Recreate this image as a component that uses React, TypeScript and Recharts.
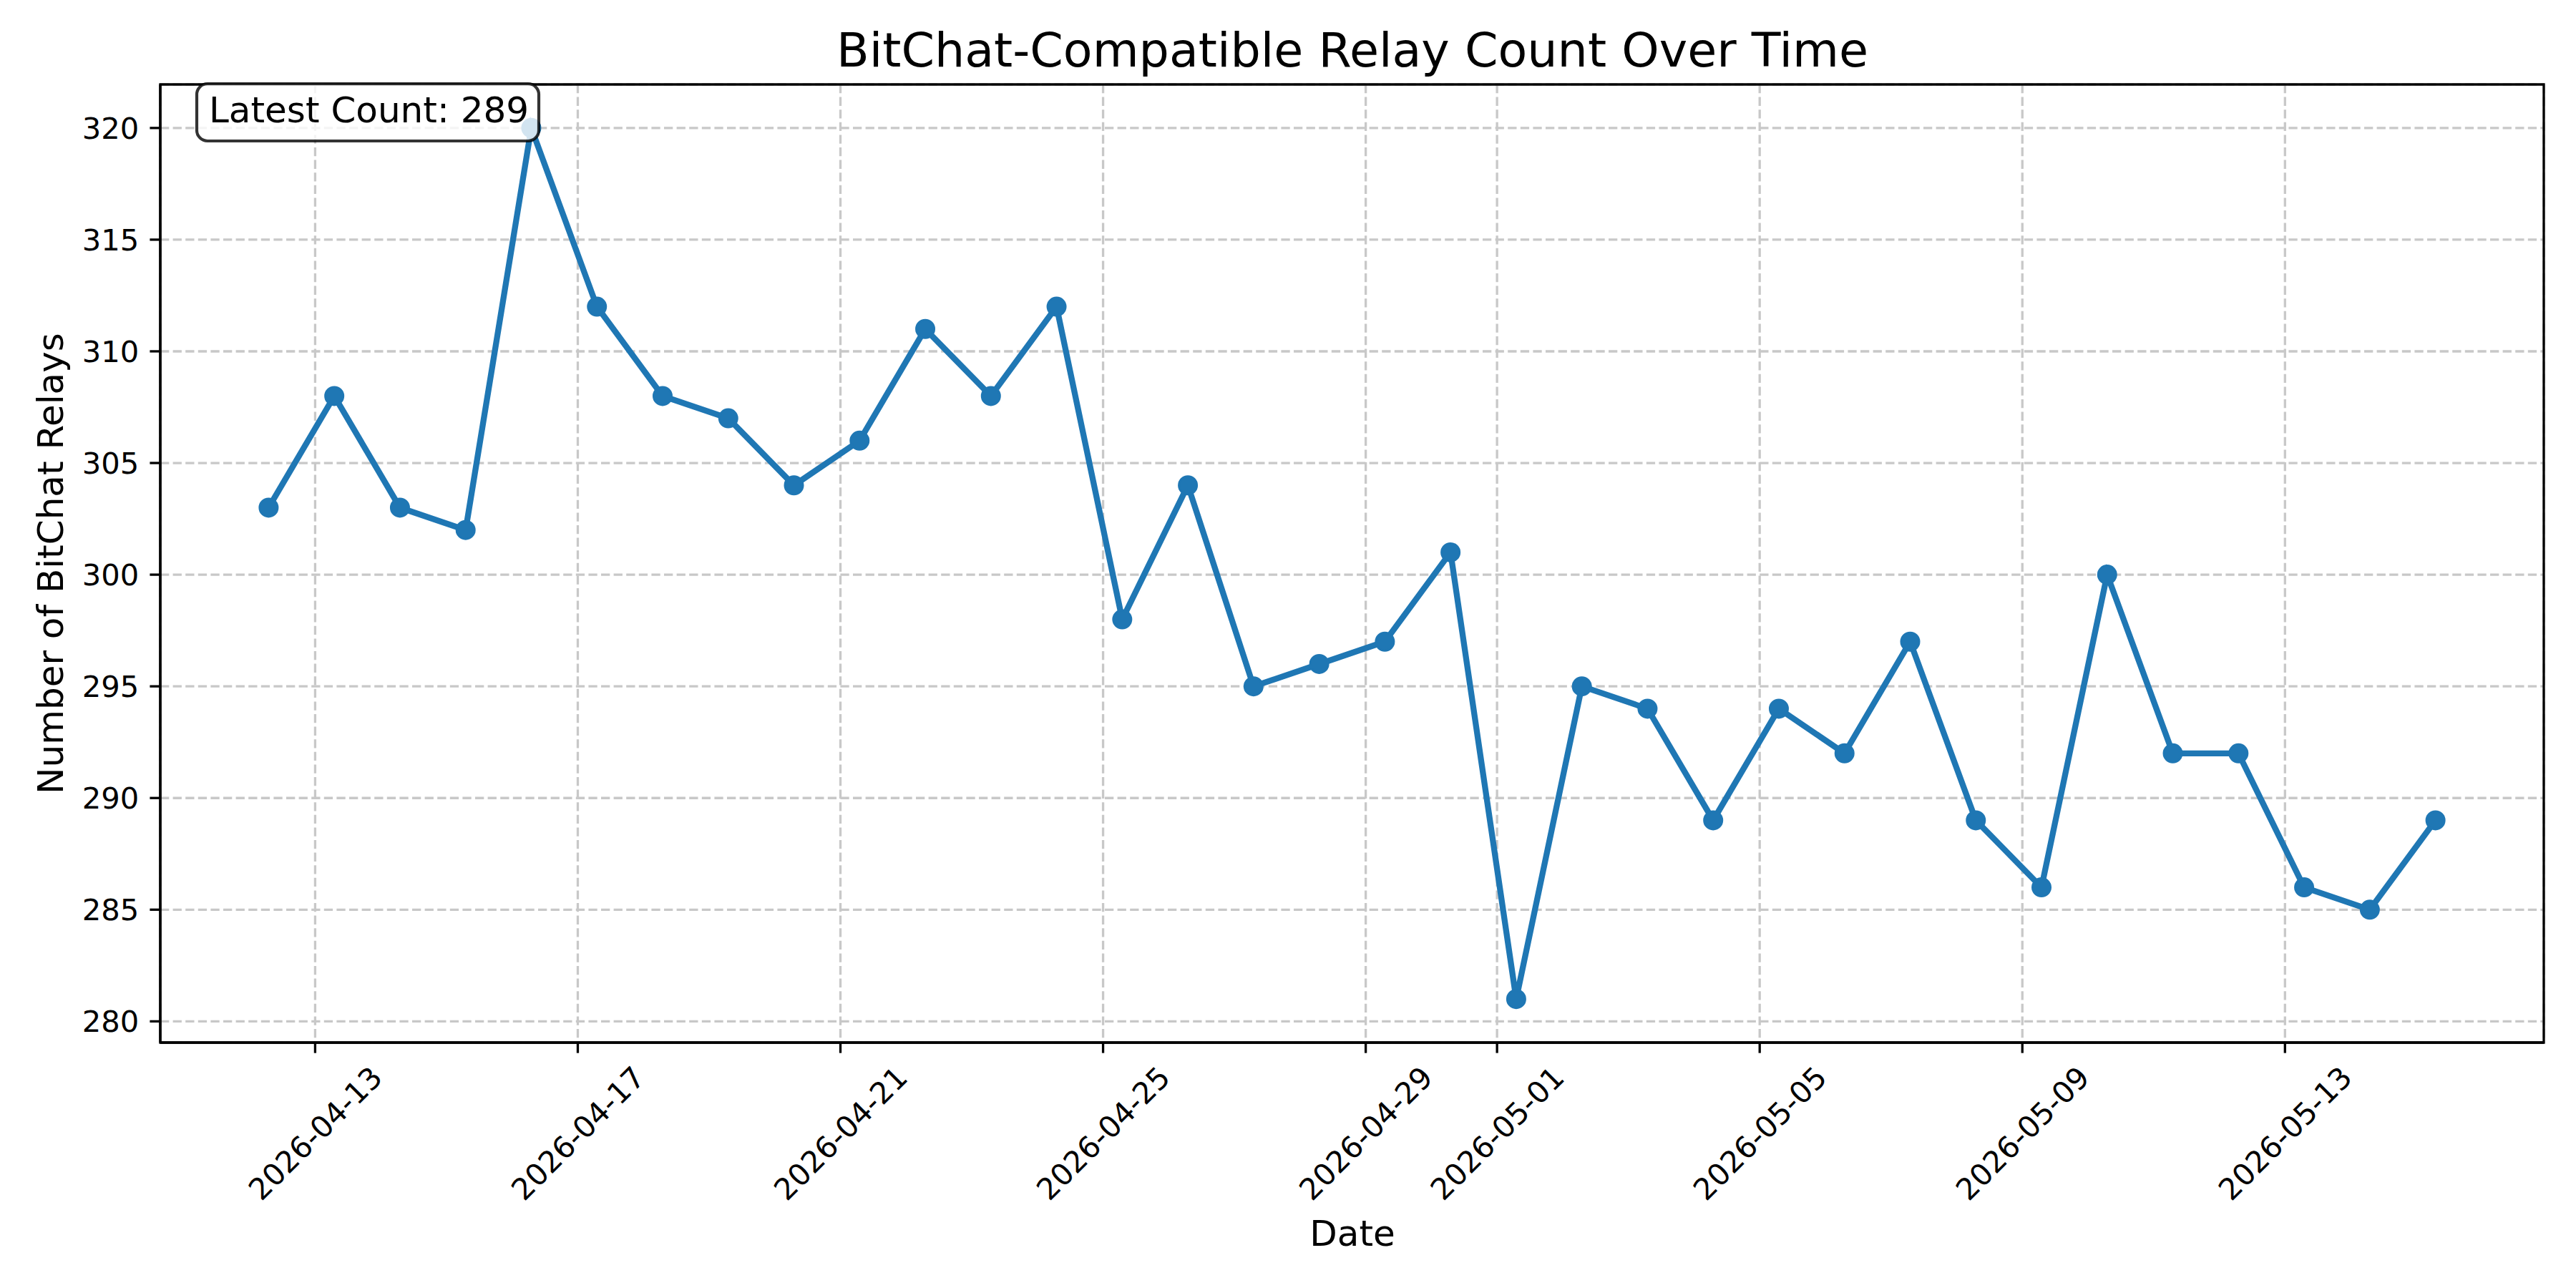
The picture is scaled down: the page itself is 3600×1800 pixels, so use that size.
import React from "react";
import { LineChart, Line, XAxis, YAxis, CartesianGrid, ReferenceArea } from "recharts";

// daily samples, taken around 07:00 UTC
const DATES = [
  "2026-04-12", "2026-04-13", "2026-04-14", "2026-04-15", "2026-04-16", "2026-04-17",
  "2026-04-18", "2026-04-19", "2026-04-20", "2026-04-21", "2026-04-22", "2026-04-23",
  "2026-04-24", "2026-04-25", "2026-04-26", "2026-04-27", "2026-04-28", "2026-04-29",
  "2026-04-30", "2026-05-01", "2026-05-02", "2026-05-03", "2026-05-04", "2026-05-05",
  "2026-05-06", "2026-05-07", "2026-05-08", "2026-05-09", "2026-05-10", "2026-05-11",
  "2026-05-12", "2026-05-13", "2026-05-14", "2026-05-15",
];
const SAMPLE_TIME = "T07:00:00Z";

const RELAY_COUNTS = [
  303, 308, 303, 302, 320, 312, 308, 307, 304, 306, 311, 308,
  312, 298, 304, 295, 296, 297, 301, 281, 295, 294, 289, 294,
  292, 297, 289, 286, 300, 292, 292, 286, 285, 289,
];

const X_TICK_DATES = [
  "2026-04-13", "2026-04-17", "2026-04-21", "2026-04-25", "2026-04-29",
  "2026-05-01", "2026-05-05", "2026-05-09", "2026-05-13",
];
const Y_TICKS = [280, 285, 290, 295, 300, 305, 310, 315, 320];

const FONT = "DejaVu Sans";
const BLUE = "#1f77b4";

const toMs = (d: string, time = "T00:00:00Z") => Date.parse(d + time);

const data = DATES.map((d, i) => ({ t: toMs(d, SAMPLE_TIME), count: RELAY_COUNTS[i] }));
const xTicks = X_TICK_DATES.map((d) => toMs(d));

// matplotlib-like 5% margins
const tMin = data[0].t;
const tMax = data[data.length - 1].t;
const tPad = (tMax - tMin) * 0.05;
const xDomain: [number, number] = [tMin - tPad, tMax + tPad];
const cMin = Math.min(...RELAY_COUNTS);
const cMax = Math.max(...RELAY_COUNTS);
const cPad = (cMax - cMin) * 0.05;
const yDomain: [number, number] = [cMin - cPad, cMax + cPad];

const latest = RELAY_COUNTS[RELAY_COUNTS.length - 1];

function DateTick(props: any) {
  const { x, y, payload } = props;
  const label = new Date(payload.value).toISOString().slice(0, 10);
  const cy = y + 112;
  return (
    <text
      x={x}
      y={cy}
      dy="0.36em"
      textAnchor="middle"
      transform={`rotate(-45, ${x}, ${cy})`}
      fontFamily={FONT}
      fontSize={41.7}
      fill="#000"
    >
      {label}
    </text>
  );
}

export default function App() {
  return (
    <div style={{ position: "absolute", left: 0, top: 0, width: 3600, height: 1800, background: "#fff" }}>
      <LineChart
        width={3600}
        height={1800}
        data={data}
        margin={{ top: 118, right: 45, bottom: 43, left: 24 }}
      >
        <CartesianGrid stroke="#c8c8c8" strokeWidth={3.3} strokeDasharray="12.3 5.3" />
        <XAxis
          dataKey="t"
          type="number"
          domain={xDomain}
          allowDataOverflow
          ticks={xTicks}
          height={300}
          tickSize={14.6}
          tickMargin={0}
          tick={<DateTick />}
          axisLine={{ stroke: "#000", strokeWidth: 3.3 }}
          tickLine={{ stroke: "#000", strokeWidth: 3.3 }}
          interval={0}
        />
        <YAxis
          type="number"
          domain={yDomain}
          allowDataOverflow
          ticks={Y_TICKS}
          width={200}
          tickSize={14.6}
          tickMargin={15}
          tick={{ fontFamily: FONT, fontSize: 41.7, fill: "#000" }}
          axisLine={{ stroke: "#000", strokeWidth: 3.3 }}
          tickLine={{ stroke: "#000", strokeWidth: 3.3 }}
          interval={0}
        />
        <ReferenceArea
          x1={xDomain[0]}
          x2={xDomain[1]}
          y1={yDomain[0]}
          y2={yDomain[1]}
          fill="none"
          stroke="#000"
          strokeWidth={3.3}
          ifOverflow="visible"
        />
        <Line
          dataKey="count"
          type="linear"
          stroke={BLUE}
          strokeWidth={8.3}
          dot={{ r: 12.5, fill: BLUE, stroke: BLUE, strokeWidth: 3 }}
          activeDot={false}
          isAnimationActive={false}
        />
      </LineChart>
      <svg
        width={3600}
        height={1800}
        style={{ position: "absolute", left: 0, top: 0, pointerEvents: "none" }}
      >
        <text x={1890} y={93} textAnchor="middle" fontFamily={FONT} fontSize={66.7} fill="#000">
          BitChat-Compatible Relay Count Over Time
        </text>
        <text x={1890} y={1741} textAnchor="middle" fontFamily={FONT} fontSize={50} fill="#000">
          Date
        </text>
        <text
          x={88}
          y={787.5}
          textAnchor="middle"
          transform="rotate(-90, 88, 787.5)"
          fontFamily={FONT}
          fontSize={50}
          fill="#000"
        >
          Number of BitChat Relays
        </text>
        <rect
          x={275}
          y={117}
          width={478}
          height={80}
          rx={15}
          fill="#fff"
          fillOpacity={0.8}
          stroke="#000"
          strokeOpacity={0.8}
          strokeWidth={4.2}
        />
        <text x={292} y={171} fontFamily={FONT} fontSize={50} fill="#000">
          {`Latest Count: ${latest}`}
        </text>
      </svg>
    </div>
  );
}
